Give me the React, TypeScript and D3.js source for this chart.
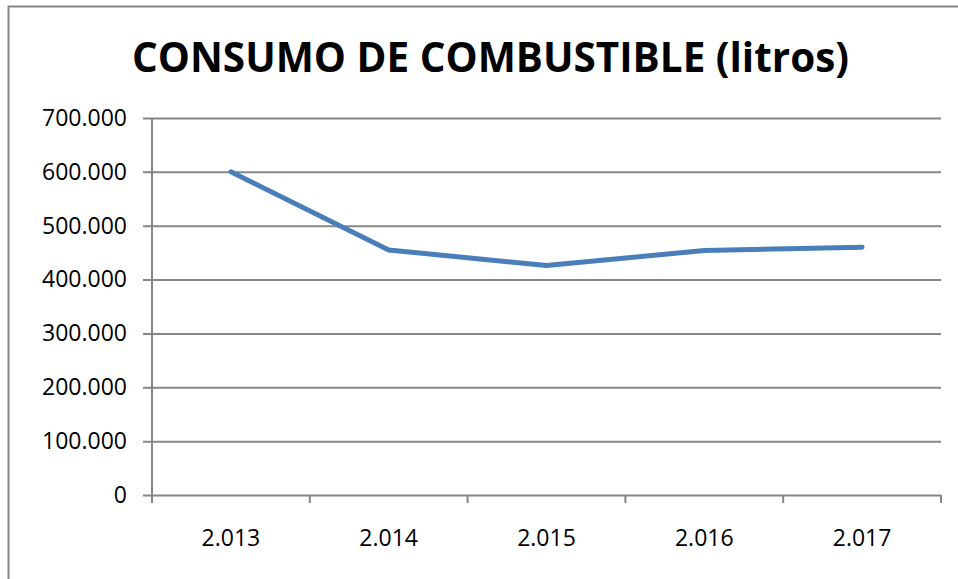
import React, { useEffect, useRef } from "react";
import * as d3 from "d3";

const years = ["2.013", "2.014", "2.015", "2.016", "2.017"];
const consumo = [600000, 455000, 426000, 454000, 460000];
const yTicks = [0, 100000, 200000, 300000, 400000, 500000, 600000, 700000];
const title = "CONSUMO DE COMBUSTIBLE (litros)";

const App = () => {
  const chartRef = useRef<SVGSVGElement | null>(null);

  useEffect(() => {
    if (chartRef.current) {
      createChart(chartRef.current);
    }
  }, []);

  const createChart = (node: SVGSVGElement) => {
    const svg = d3.select(node);
    svg.selectAll("*").remove();

    const width = 958;
    const height = 579;
    const left = 152;
    const right = 941;
    const top = 118;
    const bottom = 495;
    const gridColor = "#868686";
    const font = "'Open Sans', 'Liberation Sans', sans-serif";

    svg.append("rect").attr("width", width).attr("height", height).attr("fill", "#fff");

    // outer chart border (only top and left are visible in the crop)
    svg
      .append("path")
      .attr("d", `M8.5,${height + 2}V6.5H${width + 2}`)
      .attr("fill", "none")
      .attr("stroke", gridColor)
      .attr("stroke-width", 2);

    const locale = d3.formatLocale({
      decimal: ",",
      thousands: ".",
      grouping: [3],
      currency: ["", ""],
    });
    const fmt = locale.format(",.0f");

    const x = d3.scaleBand<string>().domain(years).range([left, right]).padding(0);
    const y = d3.scaleLinear().domain([0, 700000]).range([bottom, top]);

    // title
    svg
      .append("text")
      .attr("x", 132)
      .attr("y", 72)
      .attr("textLength", 717)
      .attr("lengthAdjust", "spacingAndGlyphs")
      .attr("font-family", font)
      .attr("font-weight", "bold")
      .attr("font-size", 41)
      .attr("fill", "#000")
      .text(title);

    // horizontal gridlines + y axis
    const yAxis = d3
      .axisLeft(y)
      .tickValues(yTicks)
      .tickSize(-(right - left))
      .tickSizeOuter(0)
      .tickFormat((d) => fmt(d as number));

    const gy = svg.append("g").attr("transform", `translate(${left},0)`).call(yAxis);
    gy.select(".domain").remove();
    gy.selectAll(".tick line")
      .attr("x1", -9)
      .attr("stroke", gridColor)
      .attr("stroke-width", 2);
    gy.selectAll(".tick text")
      .attr("x", -25)
      .attr("font-family", font)
      .attr("font-size", 23)
      .attr("fill", "#000");

    // x axis
    const xEdges = years.map((d) => x(d) as number).concat([right]);
    const gx = svg.append("g");
    gx.append("line")
      .attr("x1", left)
      .attr("x2", left)
      .attr("y1", top)
      .attr("y2", bottom + 8)
      .attr("stroke", gridColor)
      .attr("stroke-width", 2);
    gx.selectAll(".xtick")
      .data(xEdges)
      .enter()
      .append("line")
      .attr("x1", (d) => d)
      .attr("x2", (d) => d)
      .attr("y1", bottom)
      .attr("y2", bottom + 8)
      .attr("stroke", gridColor)
      .attr("stroke-width", 2);
    gx.selectAll(".xlabel")
      .data(years)
      .enter()
      .append("text")
      .attr("x", (d) => (x(d) as number) + x.bandwidth() / 2)
      .attr("y", 546)
      .attr("text-anchor", "middle")
      .attr("font-family", font)
      .attr("font-size", 23)
      .attr("fill", "#000")
      .text((d) => d);

    // series line
    const line = d3
      .line<number>()
      .x((_, i) => (x(years[i]) as number) + x.bandwidth() / 2)
      .y((d) => y(d));

    svg
      .append("path")
      .datum(consumo)
      .attr("d", line)
      .attr("fill", "none")
      .attr("stroke", "#4a7ebb")
      .attr("stroke-width", 5)
      .attr("stroke-linecap", "round")
      .attr("stroke-linejoin", "round");
  };

  return (
    <svg
      ref={chartRef}
      width={958}
      height={579}
      style={{ position: "absolute", left: 0, top: 0, display: "block" }}
    />
  );
};

export default App;
